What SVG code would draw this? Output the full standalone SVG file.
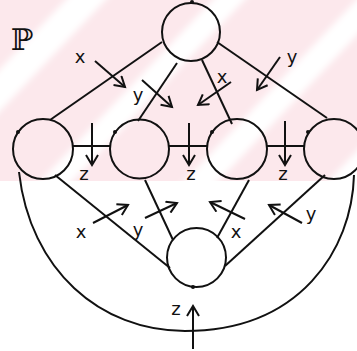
<svg xmlns="http://www.w3.org/2000/svg" width="357" height="351" viewBox="0 0 357 351">
  <style>
    .node { fill: none; stroke: #111; stroke-width: 2; }
    .edge { fill: none; stroke: #111; stroke-width: 2; }
    .arrow { fill: none; stroke: #111; stroke-width: 2; marker-end: url(#head); }
    .lbl { font-family: "DejaVu Sans", sans-serif; font-size: 18px; fill: #111; text-anchor: middle; }
    .dot { fill: #111; }
  </style>
  <defs>
    <marker id="head" markerWidth="14" markerHeight="14" refX="11" refY="7" orient="auto" markerUnits="userSpaceOnUse">
      <path d="M1,1 L11,7 L1,13" fill="none" stroke="#111" stroke-width="2"/>
    </marker>
    <clipPath id="band"><rect x="0" y="0" width="357" height="181"/></clipPath>
    <filter id="soft" x="-20%" y="-20%" width="140%" height="140%"><feGaussianBlur stdDeviation="3"/></filter>
  </defs>

  <rect x="0" y="0" width="357" height="351" fill="#ffffff"/>
  <g id="background" clip-path="url(#band)">
    <rect x="0" y="0" width="357" height="181" fill="#fce8ec"/>
    <g fill="#ffffff" filter="url(#soft)">
      <polygon points="75,-10 115,-10 -76,191 -116,191"/>
      <polygon points="222,-10 254,-10 63,191 31,191"/>
      <polygon points="366,-10 400,-10 209,191 175,191"/>
      <polygon points="510,-10 545,-10 354,191 319,191"/>
    </g>
  </g>

  <text id="title" x="11" y="50" font-family="DejaVu Serif, serif" font-size="30" fill="#111">ℙ</text>

  <g id="connectors">
    <path class="edge" d="M162,42 L50,120"/>
    <path class="edge" d="M177,63 L138,121"/>
    <path class="edge" d="M202,60 L232,124"/>
    <path class="edge" d="M217,42 L327,118"/>
    <path class="edge" d="M73,146 L110,146"/>
    <path class="edge" d="M169,146 L207,146"/>
    <path class="edge" d="M267,146 L304,146"/>
    <path class="edge" d="M55,175 L170,268"/>
    <path class="edge" d="M145,180 L173,240"/>
    <path class="edge" d="M249,180 L217,238"/>
    <path class="edge" d="M325,175 L225,266"/>
    <path class="edge" d="M19,172 C30,270 100,331 185,331 C300,331 352,250 354,175"/>

    <path class="arrow" d="M95,61 L125,87"/>
    <path class="arrow" d="M142,80 L172,107"/>
    <path class="arrow" d="M231,82 L198,105"/>
    <path class="arrow" d="M280,57 L257,90"/>
    <path class="arrow" d="M92,123 L92,165"/>
    <path class="arrow" d="M189,123 L189,165"/>
    <path class="arrow" d="M285,121 L285,165"/>
    <path class="arrow" d="M93,223 L128,205"/>
    <path class="arrow" d="M145,218 L177,203"/>
    <path class="arrow" d="M245,219 L210,202"/>
    <path class="arrow" d="M302,223 L269,205"/>
    <path class="arrow" d="M193,349 L193,306"/>

    <text class="lbl" x="80" y="63">x</text>
    <text class="lbl" x="138" y="101">y</text>
    <text class="lbl" x="222" y="83">x</text>
    <text class="lbl" x="292" y="63">y</text>
    <text class="lbl" x="84" y="180">z</text>
    <text class="lbl" x="191" y="180">z</text>
    <text class="lbl" x="283" y="180">z</text>
    <text class="lbl" x="81" y="238">x</text>
    <text class="lbl" x="138" y="236">y</text>
    <text class="lbl" x="236" y="238">x</text>
    <text class="lbl" x="311" y="220">y</text>
    <text class="lbl" x="176" y="315">z</text>
  </g>

  <g id="n-top"><circle class="node" cx="191" cy="32" r="29"/><circle class="dot" cx="192" cy="2" r="2"/></g>
  <g id="n-1"><circle class="node" cx="43" cy="149" r="30"/><circle class="dot" cx="18" cy="132" r="2"/></g>
  <g id="n-2"><circle class="node" cx="139.5" cy="149" r="29.5"/><circle class="dot" cx="115" cy="132" r="2"/></g>
  <g id="n-3"><circle class="node" cx="237" cy="149" r="30"/><circle class="dot" cx="212" cy="132" r="2"/></g>
  <g id="n-4"><circle class="node" cx="334" cy="149" r="30"/><circle class="dot" cx="308" cy="132" r="2"/></g>
  <g id="n-bottom"><circle class="node" cx="196.5" cy="257.5" r="29.5"/><circle class="dot" cx="193" cy="287" r="2"/></g>
</svg>
